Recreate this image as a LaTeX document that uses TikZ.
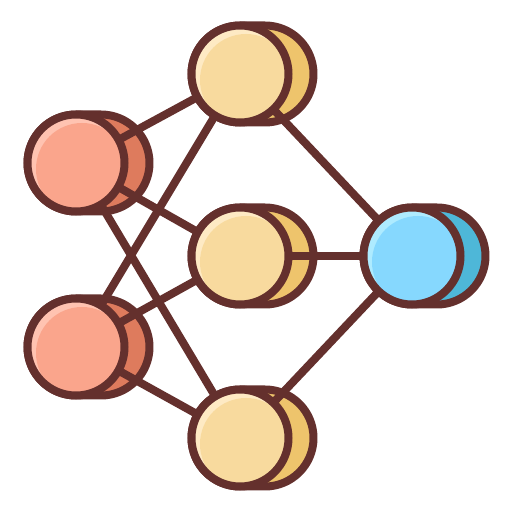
\documentclass[tikz,border=0pt]{standalone}
\definecolor{ink}{HTML}{64302D}
\definecolor{redmain}{HTML}{FAA58C}
\definecolor{redhi}{HTML}{FFC3B1}
\definecolor{redback}{HTML}{DE7B5D}
\definecolor{yelmain}{HTML}{F8DA9E}
\definecolor{yelhi}{HTML}{FEEAC4}
\definecolor{yelback}{HTML}{EEC46C}
\definecolor{blumain}{HTML}{86D8FE}
\definecolor{bluhi}{HTML}{AEEBFF}
\definecolor{bluback}{HTML}{4EB7D8}
\pgfdeclarelayer{backshape}
\pgfdeclarelayer{links}
\pgfsetlayers{backshape,links,main}
\tikzset{
  coin/.style 2 args={circle, draw=ink, line width=8pt, minimum size=97pt, inner sep=0pt, fill=#2,
    path picture={\fill[#2] (path picture bounding box.center) circle[radius=50pt];
                  \fill[#1] ([shift={(6pt,-6pt)}]path picture bounding box.center) circle[radius=46pt];}},
  link/.style={draw=ink, line width=8pt},
  backcap/.style={draw=ink, line width=8pt, line join=round, fill=#1},
}
\newcommand{\coinback}[2]{%
  \path[backcap=#2] ([yshift=48.5pt]#1.center) -- ++(25pt,0) arc[start angle=90,end angle=-90,radius=48.5pt] -- ++(-25pt,0) arc[start angle=270,end angle=90,radius=48.5pt] -- cycle;}
\begin{document}
\begin{tikzpicture}[x=1pt,y=1pt]
\useasboundingbox (0,0) rectangle (512,512);
\node[coin={redmain}{redhi}] (r1) at (76,349) {};
\node[coin={redmain}{redhi}] (r2) at (76,165) {};
\node[coin={yelmain}{yelhi}] (y1) at (240,438) {};
\node[coin={yelmain}{yelhi}] (y2) at (240,256) {};
\node[coin={yelmain}{yelhi}] (y3) at (240,74) {};
\node[coin={blumain}{bluhi}] (b1) at (412,256) {};
\begin{pgfonlayer}{backshape}
\coinback{r1}{redback}
\coinback{r2}{redback}
\coinback{y1}{yelback}
\coinback{y2}{yelback}
\coinback{y3}{yelback}
\coinback{b1}{bluback}
\end{pgfonlayer}
\begin{pgfonlayer}{links}
\foreach \a in {r1,r2} \foreach \b in {y1,y2,y3} \draw[link] (\a.center) -- (\b.center);
\foreach \a in {y1,y2,y3} \draw[link] (\a.center) -- (b1.center);
\end{pgfonlayer}
\end{tikzpicture}
\end{document}
